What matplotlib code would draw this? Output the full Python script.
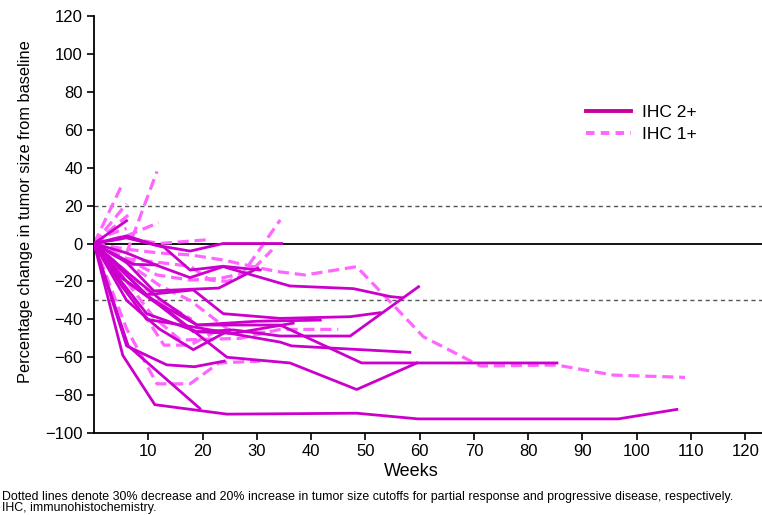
import matplotlib
matplotlib.use("Agg")
import matplotlib.pyplot as plt
from matplotlib import font_manager

plt.rcParams['font.family'] = ['Liberation Sans', 'DejaVu Sans']

# Weeks on study and percentage change from baseline, one list per patient
ihc2_weeks = [
    [0, 5.3, 11.2, 24.5, 48.4, 59.7, 96.6, 107.4],
    [0, 6.3, 19.5],
    [0, 6, 13.4, 18.5, 24],
    [0, 6, 12.2, 18.3, 25.7, 36.7],
    [0, 5, 11.6, 24.5, 36.1, 48.4, 59.5],
    [0, 6, 12, 19, 34.3, 49.3, 85.3],
    [0, 5, 9.7, 18.3, 34.3, 36.4, 58.2],
    [0, 6, 12, 17.7, 23.8, 36.1, 47.8, 54.6, 56.7],
    [0, 6, 12.9, 17.7, 23.8, 30.6],
    [0, 6, 11.6, 17.7, 23.8, 34.6],
    [0, 5, 9.7, 19, 25.7, 34.3, 47.2, 59.8],
    [0, 5, 9.7, 18.3, 23.8, 34.3, 47.2, 52.7],
    [0, 6],
    [0, 7.3, 11.6],
    [0, 6, 12, 18.3, 25],
    [0, 5, 10.3, 19, 30, 41.7],
    [0, 6, 11, 23, 30.2],
]
ihc2_pct = [
    [0, -59, -85, -90, -89.5, -92.5, -92.5, -87.5],
    [0, -54, -87],
    [0, -54, -64, -65, -62],
    [0, -20, -33, -46.5, -47.4, -42],
    [0, -18, -31, -60, -63, -77, -63],
    [0, -15, -29, -43, -43, -63, -63],
    [0, -22, -40, -44, -52, -54, -57.4],
    [0, -5, -12, -18, -12.2, -22.4, -23.8, -28, -28.6],
    [0, 3, -2, -14, -12, -14],
    [0, 4, -1, -4, 0, 0],
    [0, -20, -37, -46.5, -45.6, -48.8, -48.8, -22.8],
    [0, -14, -27, -24.5, -37, -39.5, -38.6, -36.5],
    [0, 12],
    [0, -11, -11.3],
    [0, -30, -45, -56, -45.6],
    [0, -14, -29, -43, -41, -40.4],
    [0, -10, -25, -23.5, -13],
]

ihc1_weeks = [
    [0, 5],
    [0, 6],
    [0, 6.3],
    [0, 6, 11.9],
    [0, 6, 11.6],
    [0, 6, 12, 21],
    [0, 6, 12, 17.7, 23.8, 30.6, 34.3, 38.9, 48.4, 60.7, 71.2, 85.3, 95.7, 108.9],
    [0, 6, 12, 17.7, 21.4, 24.5, 27, 34.3],
    [0, 6, 11.6, 17.7, 23.2, 28.8, 32.8],
    [0, 6, 11.6, 17.7, 23, 30.6],
    [0, 8.2, 12.9, 17.7, 22],
    [0, 6, 10.9, 15.9, 27, 34.3, 45],
    [0, 6, 12, 17.7, 25, 32],
    [0, 3, 6],
    [0, 6, 12, 18],
]
ihc1_pct = [
    [0, 30],
    [0, 21],
    [0, 15],
    [0, 4, 11],
    [0, -5, 38],
    [0, 3, 0, 2],
    [0, -3, -5, -6, -8.7, -13, -15, -16.6, -12.2, -49.2, -64.6, -64.1, -69.4, -70.6],
    [0, -8, -10, -12, -19.3, -20, -17.5, 12.4],
    [0, -8, -16.6, -19.3, -18.4, -15, -3.4],
    [0, -45, -74, -74, -63, -62],
    [0, -33, -53.6, -53.6, -47],
    [0, -20, -38.6, -50.9, -50, -45.3, -45.3],
    [0, -10, -22, -30, -46, -47],
    [0, 5, 8],
    [0, -15, -30, -40],
]

x_ticks = list(range(10, 130, 10))
y_ticks = list(range(-100, 140, 20))
pr_cutoff = -30
pd_cutoff = 20

solid_color = '#cc00cc'
dash_color = '#ff66ff'

fig = plt.figure(figsize=(7.62, 5.15), dpi=100)
ax = fig.add_axes([0.1234, 0.159, 0.876, 0.810])

ax.axhline(0, color='black', lw=1.3, zorder=1)
ax.axhline(pd_cutoff, color='#555555', lw=1.0, ls=(0, (3, 2.5)), zorder=1)
ax.axhline(pr_cutoff, color='#555555', lw=1.0, ls=(0, (3, 2.5)), zorder=1)

for w, v in zip(ihc1_weeks, ihc1_pct):
    ax.plot(w, v, color=dash_color, lw=2.3, ls=(0, (3.5, 1.8)), zorder=2,
            solid_capstyle='butt', dash_capstyle='butt')
for w, v in zip(ihc2_weeks, ihc2_pct):
    ax.plot(w, v, color=solid_color, lw=2.0, zorder=3)

h2, = ax.plot([], [], color='#c8009c', lw=2.8, label='IHC 2+')
h1, = ax.plot([], [], color=dash_color, lw=2.8, ls=(0, (2.2, 1.6)), label='IHC 1+')
ax.legend(handles=[h2, h1], loc='upper left', bbox_to_anchor=(0.737, 0.786),
          frameon=False, fontsize=12.5, handlelength=2.6, handletextpad=0.6,
          labelspacing=0.35, borderaxespad=0, borderpad=0)

ax.set_xlim(0, 123)
ax.set_ylim(-100, 120)
ax.set_xticks(x_ticks)
ax.set_yticks(y_ticks)
ax.tick_params(labelsize=12, length=5, width=1.2, direction='out', pad=3)
for side in ('top', 'right'):
    ax.spines[side].set_visible(False)
for side in ('left', 'bottom'):
    ax.spines[side].set_linewidth(1.3)

ax.set_xlabel('Weeks', fontsize=13)
ax.xaxis.set_label_coords(0.475, -0.072)
ax.set_ylabel('Percentage change in tumor size from baseline', fontsize=11.8)
ax.yaxis.set_label_coords(-0.092, 0.53)

# Footnote in a narrow face when one is available
installed = {f.name for f in font_manager.fontManager.ttflist}
if 'Liberation Sans Narrow' in installed:
    note_font = dict(family=['Liberation Sans Narrow', 'DejaVu Sans'], fontsize=9.6)
else:
    note_font = dict(fontsize=8.9)
fig.text(0.003, 0.030, 'Dotted lines denote 30% decrease and 20% increase in tumor size cutoffs '
         'for partial response and progressive disease, respectively.',
         ha='left', va='baseline', **note_font)
fig.text(0.003, 0.008, 'IHC, immunohistochemistry.', ha='left', va='baseline', **note_font)

fig.savefig('out.png', dpi=100)
